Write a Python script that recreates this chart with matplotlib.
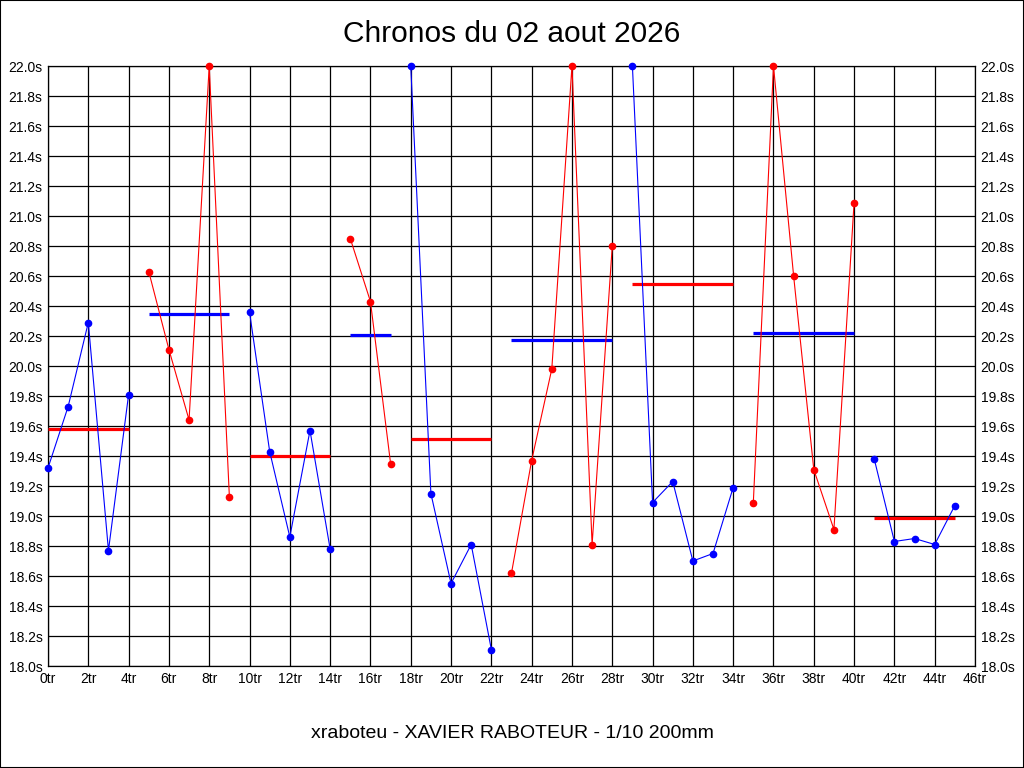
import numpy as np
import matplotlib
matplotlib.use("Agg")
import matplotlib.pyplot as plt
from matplotlib.patches import Rectangle

plt.rcParams['font.family'] = ['Liberation Sans', 'DejaVu Sans']

titre = "Chronos du 02 aout 2026"
pilote = "xraboteu - XAVIER RABOTEUR - 1/10 200mm"

# temps au tour (s), valeurs au-dessus de 22s ramenees a 22s
chronos = [19.32, 19.73, 20.29, 18.77, 19.81,
           20.63, 20.11, 19.64, 22.00, 19.13,
           20.36, 19.43, 18.86, 19.57, 18.78,
           20.85, 20.43, 19.35,
           22.00, 19.15, 18.55, 18.81, 18.11,
           18.62, 19.37, 19.98, 22.00, 18.81, 20.80,
           22.00, 19.09, 19.23, 18.70, 18.75, 19.19,
           19.09, 22.00, 20.60, 19.31, 18.91, 21.09,
           19.38, 18.83, 18.85, 18.81, 19.07]
# debut de chaque serie (indice de tour)
debuts = [0, 5, 10, 15, 18, 23, 29, 35, 41, 46]
# moyenne de chaque serie
moyennes = [19.58, 20.35, 19.40, 20.21, 19.51, 20.17, 20.55, 20.22, 18.99]
couleurs = ['blue', 'red']

ymin, ymax = 18.0, 22.0
xmax = 46

fig = plt.figure(figsize=(10.24, 7.68), dpi=100)
ax = fig.add_axes([48/1024, 102/768, 927/1024, 600/768])

tours = np.arange(len(chronos))
vals = np.clip(np.array(chronos), ymin, ymax)

for g in range(len(debuts) - 1):
    a, b = debuts[g], debuts[g + 1]
    c = couleurs[g % 2]
    cm = couleurs[(g + 1) % 2]
    ax.plot(tours[a:b], vals[a:b], color=c, lw=0.8, marker='o', ms=4.5,
            clip_on=False, zorder=4)
    ax.plot([tours[a], tours[b - 1]], [moyennes[g], moyennes[g]], color=cm,
            lw=2.3, solid_capstyle='butt', zorder=3)

ax.set_xlim(0, xmax)
ax.set_ylim(ymin, ymax)
ax.set_xticks(np.arange(0, xmax + 1, 2))
ax.set_xticklabels(["%dtr" % t for t in range(0, xmax + 1, 2)])
yt = np.arange(18.0, 22.01, 0.2)
ax.set_yticks(yt)
ax.set_yticklabels(["%.1fs" % v for v in yt])
ax.tick_params(axis='both', length=0, labelsize=10, colors='black', pad=4)
ax.tick_params(axis='y', labelright=True, right=False)
ax.grid(True, color='black', lw=0.9)
ax.set_axisbelow(True)
for s in ax.spines.values():
    s.set_linewidth(0.9)

fig.text(0.5, 1 - 34/768, titre, ha='center', va='center', fontsize=21.5)
fig.text(0.5, 1 - 733/768, pilote, ha='center', va='center', fontsize=14)

fig.patches.append(Rectangle((0, 0), 1, 1, transform=fig.transFigure,
                             fill=False, edgecolor='black', lw=1.5))

fig.savefig("out.png", dpi=100)
